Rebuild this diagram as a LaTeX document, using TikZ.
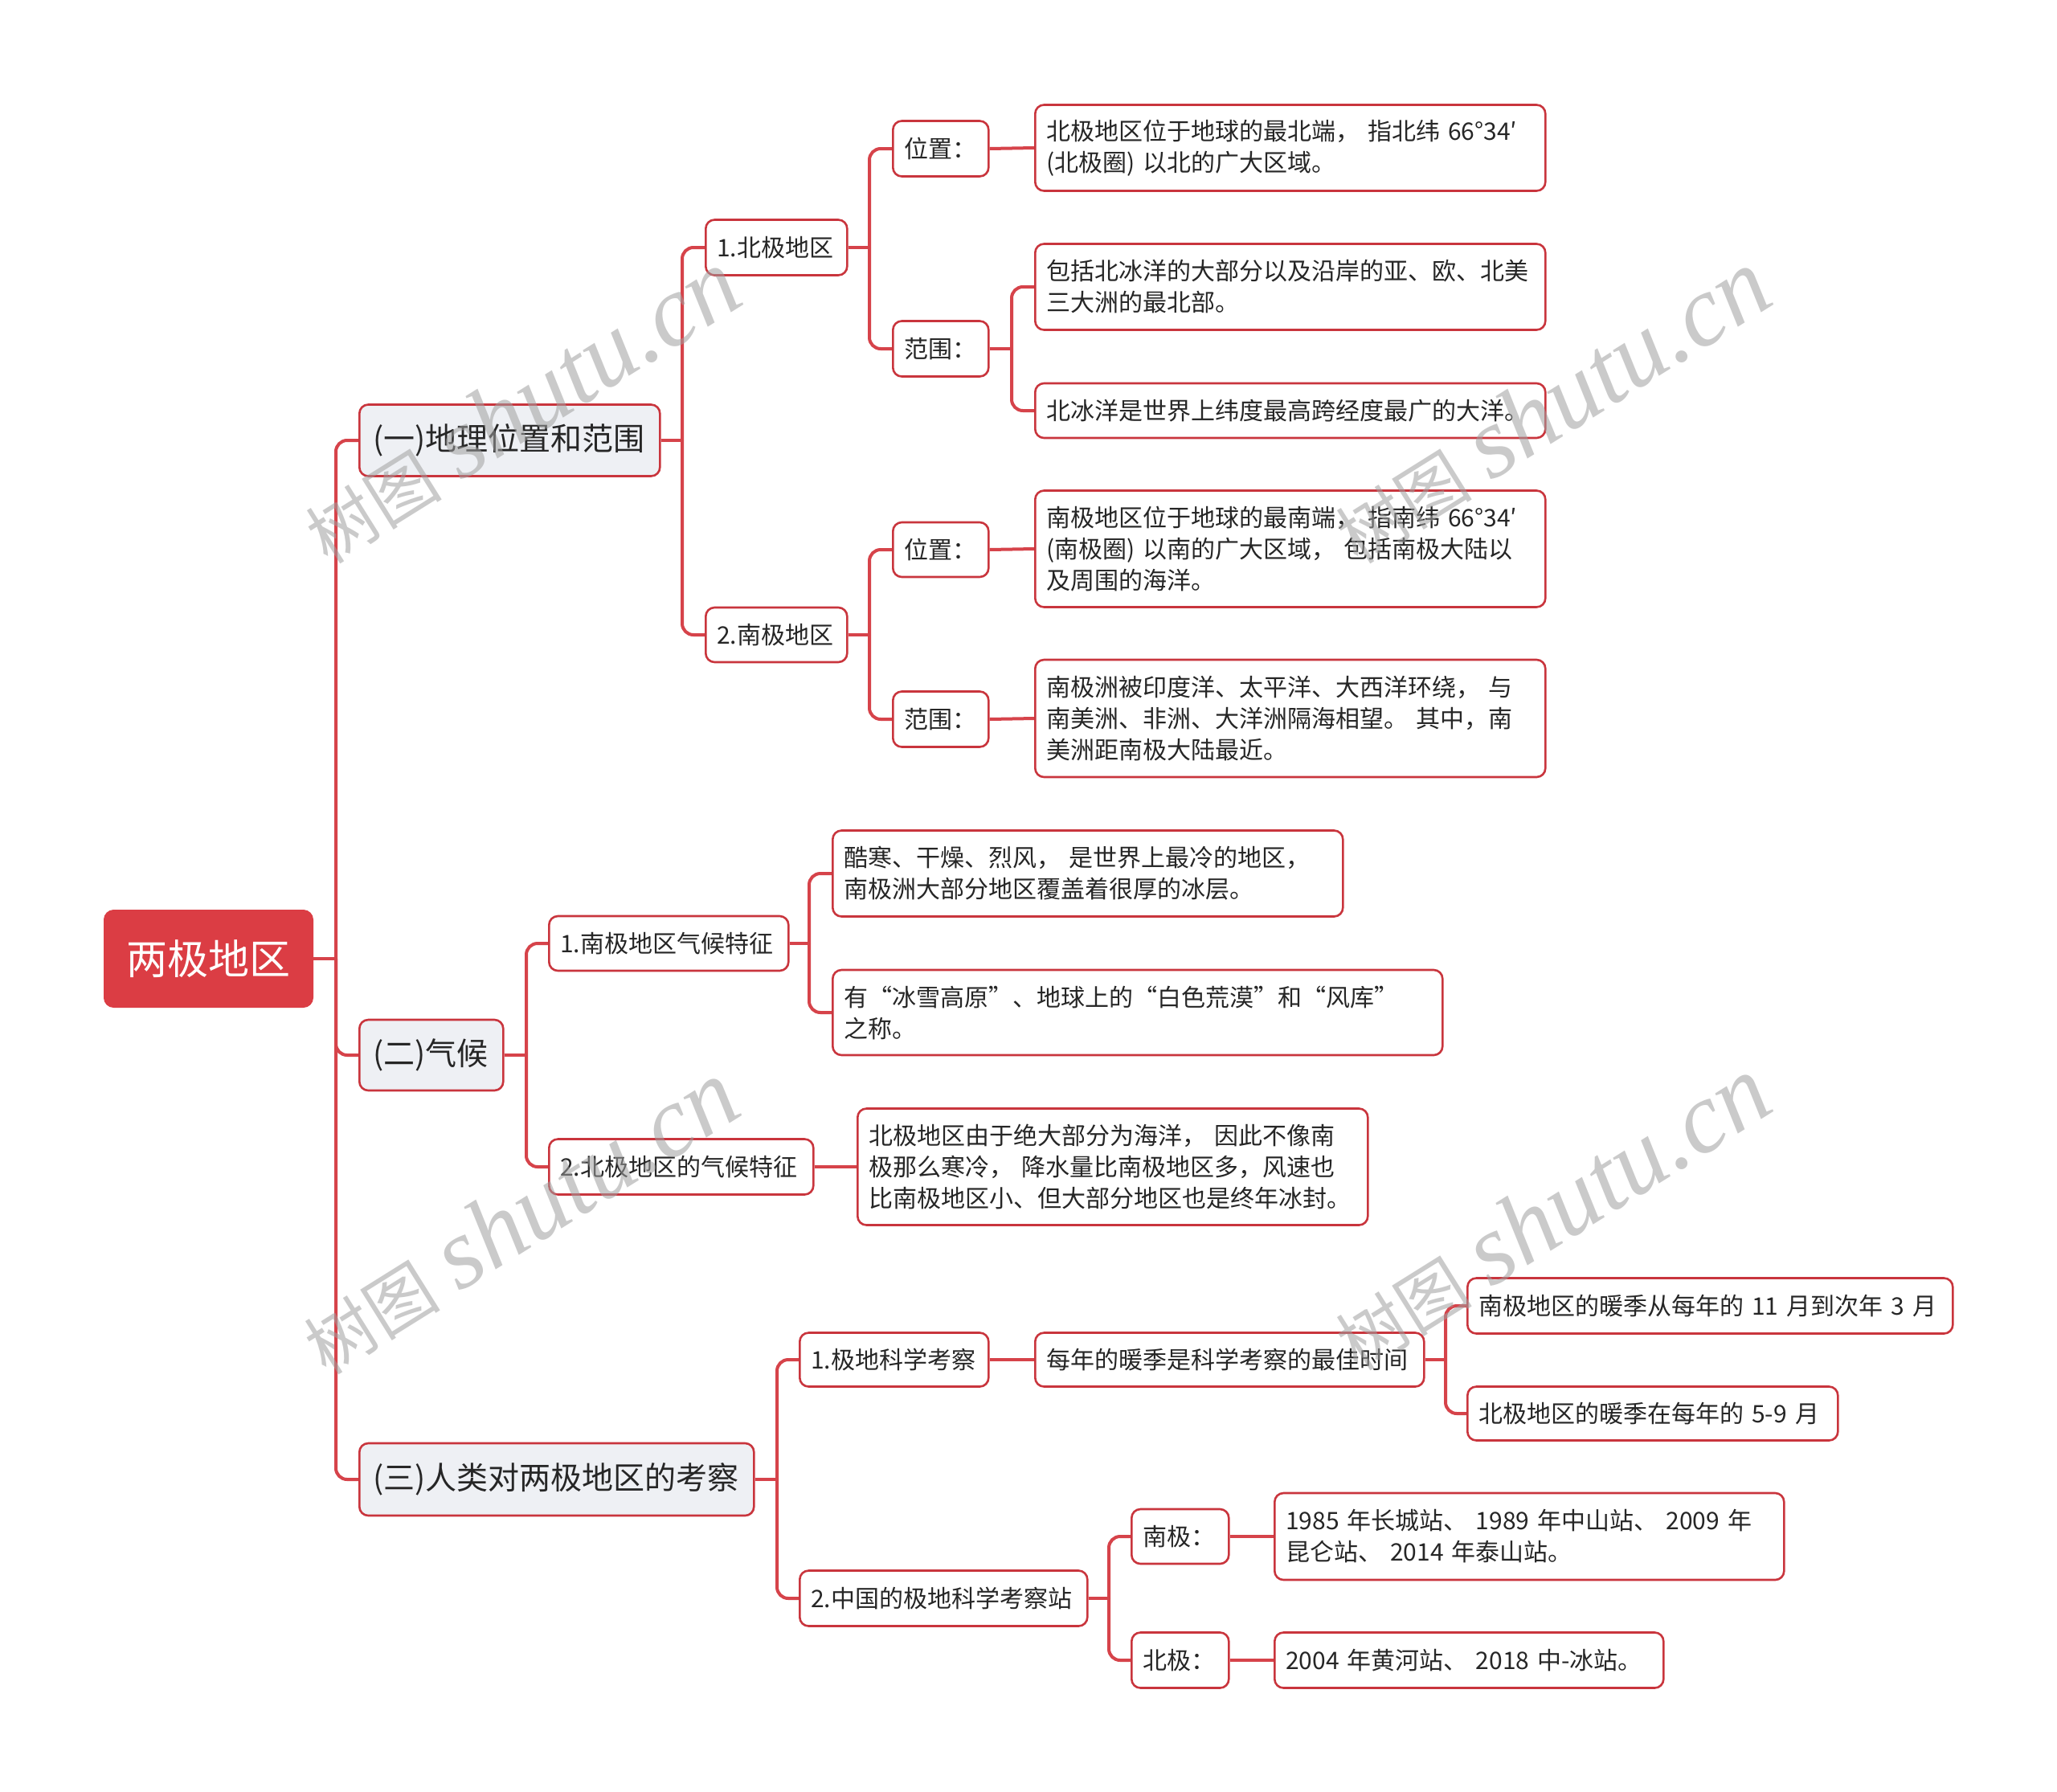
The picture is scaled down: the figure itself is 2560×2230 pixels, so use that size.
\documentclass[tikz,border=0pt]{standalone}
\usepackage{fontspec}
\setmainfont{Noto Sans CJK SC}
\newfontfamily\fwfont[RawFeature=+fwid]{Noto Sans CJK SC}
\newfontfamily\wmserif{Liberation Serif}
\newcommand{\qfw}[1]{{\fwfont #1}}
\definecolor{lc}{HTML}{D6434A}
\definecolor{bd}{HTML}{C9353D}
\definecolor{lonefill}{HTML}{EEF0F4}
\definecolor{rootfill}{HTML}{DB3D44}
\definecolor{tx}{HTML}{262626}
\definecolor{wmc}{HTML}{A0A0A0}
\pgfdeclarelayer{bg}
\pgfsetlayers{bg,main}
\newcommand{\brconn}[3]{\draw[conn] (#1.east) -- (#1.east -| #3); \draw[conn] (#1.east -| #3) |- (#2.west);}
\newcommand{\stconn}[2]{\draw[conn] (#1.east) -- (#2.west);}
\tikzset{
  box/.style={draw=bd, fill=white, line width=2.6pt, rounded corners=11pt, anchor=west, align=left,
    inner xsep=14pt, inner ysep=0pt, text=tx, font=\fontsize{30}{39}\selectfont},
  lone/.style={box, fill=lonefill, inner xsep=17pt, font=\fontsize{39}{46}\selectfont},
  rootn/.style={fill=rootfill, draw=rootfill, line width=1pt, rounded corners=12pt, anchor=west, align=center,
    text=white, minimum width=260pt, minimum height=121pt, inner sep=0pt, font=\fontsize{51}{56}\selectfont},
  conn/.style={draw=lc, line width=4pt, rounded corners=14pt},
  wm/.style={text=wmc, opacity=0.55, rotate=32, inner sep=0pt}
}
\begin{document}
\begin{tikzpicture}[x=1pt,y=-1pt]
\useasboundingbox (0,0) rectangle (2560,2230);
% root and level 1
\node[rootn] (root) at (129,1193) {两极地区};
\node[lone, text width=340pt, minimum height=89pt] (g1) at (446,548) {(一)地理位置和范围};
\node[lone, text width=145pt, minimum height=88pt] (g2) at (446,1313) {(二)气候};
\node[lone, text width=457pt, minimum height=90pt] (g3) at (446,1841) {(三)人类对两极地区的考察};
% branch one
\node[box, text width=148pt, minimum height=69pt] (a1) at (877,308) {1.北极地区};
\node[box, text width=148pt, minimum height=68pt] (a2) at (877,790) {2.南极地区};
\node[box, text width=91pt, minimum height=69pt] (a1p) at (1110,185) {位置：};
\node[box, text width=91pt, minimum height=69pt] (a1r) at (1110,434) {范围：};
\node[box, text width=607pt, minimum height=107pt] (a1pl) at (1287,184) {北极地区位于地球的最北端， 指北纬 66°34′\\(北极圈) 以北的广大区域。};
\node[box, text width=607pt, minimum height=107pt] (a1rl1) at (1287,357) {包括北冰洋的大部分以及沿岸的亚、欧、北美\\三大洲的最北部。};
\node[box, text width=607pt, minimum height=68pt] (a1rl2) at (1287,511) {北冰洋是世界上纬度最高跨经度最广的大洋。};
\node[box, text width=91pt, minimum height=68pt] (a2p) at (1110,684) {位置：};
\node[box, text width=91pt, minimum height=69pt] (a2r) at (1110,895) {范围：};
\node[box, text width=607pt, minimum height=145pt] (a2pl) at (1287,683) {南极地区位于地球的最南端， 指南纬 66°34′\\(南极圈) 以南的广大区域， 包括南极大陆以\\及周围的海洋。};
\node[box, text width=607pt, minimum height=146pt] (a2rl) at (1287,894) {南极洲被印度洋、太平洋、大西洋环绕， 与\\南美洲、非洲、大洋洲隔海相望。 其中，南\\美洲距南极大陆最近。};
% branch two
\node[box, text width=270pt, minimum height=68pt] (b1) at (682,1174) {1.南极地区气候特征};
\node[box, text width=301pt, minimum height=69pt] (b2) at (682,1452) {2.北极地区的气候特征};
\node[box, text width=607pt, minimum height=107pt] (b1l1) at (1035,1087) {酷寒、干燥、烈风， 是世界上最冷的地区，\\南极洲大部分地区覆盖着很厚的冰层。};
\node[box, text width=731pt, minimum height=106pt] (b1l2) at (1035,1260) {有\qfw{“}冰雪高原\qfw{”}、地球上的\qfw{“}白色荒漠\qfw{”}和\qfw{“}风库\qfw{”}\\之称。};
\node[box, text width=607pt, minimum height=145pt] (b2l) at (1066,1452) {北极地区由于绝大部分为海洋， 因此不像南\\极那么寒冷， 降水量比南极地区多，风速也\\比南极地区小、但大部分地区也是终年冰封。};
% branch three
\node[box, text width=207pt, minimum height=67pt] (c1) at (994,1692) {1.极地科学考察};
\node[box, text width=330pt, minimum height=69pt] (c2) at (994,1989) {2.中国的极地科学考察站};
\node[box, text width=456pt, minimum height=67pt] (c1m) at (1287,1692) {每年的暖季是科学考察的最佳时间};
\node[box, text width=576pt, minimum height=69pt] (c1l1) at (1825,1625) {南极地区的暖季从每年的 11 月到次年 3 月};
\node[box, text width=433pt, minimum height=67pt] (c1l2) at (1825,1759) {北极地区的暖季在每年的 5-9 月};
\node[box, text width=93pt, minimum height=68pt] (c2s) at (1407,1912) {南极：};
\node[box, text width=93pt, minimum height=69pt] (c2n) at (1407,2066) {北极：};
\node[box, text width=606pt, minimum height=108pt] (c2sl) at (1585,1912) {1985 年长城站、 1989 年中山站、 2009 年\\昆仑站、 2014 年泰山站。};
\node[box, text width=456pt, minimum height=69pt] (c2nl) at (1585,2066) {2004 年黄河站、 2018 中-冰站。};
% connectors
\coordinate (v0) at (418,0);
\coordinate (v1) at (849,0);
\coordinate (v2) at (1082,0);
\coordinate (v3) at (1259,0);
\coordinate (v4) at (655,0);
\coordinate (v5) at (1007,0);
\coordinate (v6) at (967,0);
\coordinate (v7) at (1799,0);
\coordinate (v8) at (1380,0);
\begin{pgfonlayer}{bg}
\fill[white] (0,0) rectangle (2560,2230);
\brconn{root}{g1}{v0}
\brconn{root}{g2}{v0}
\brconn{root}{g3}{v0}
\brconn{g1}{a1}{v1}
\brconn{g1}{a2}{v1}
\brconn{a1}{a1p}{v2}
\brconn{a1}{a1r}{v2}
\stconn{a1p}{a1pl}
\brconn{a1r}{a1rl1}{v3}
\brconn{a1r}{a1rl2}{v3}
\brconn{a2}{a2p}{v2}
\brconn{a2}{a2r}{v2}
\stconn{a2p}{a2pl}
\stconn{a2r}{a2rl}
\brconn{g2}{b1}{v4}
\brconn{g2}{b2}{v4}
\brconn{b1}{b1l1}{v5}
\brconn{b1}{b1l2}{v5}
\stconn{b2}{b2l}
\brconn{g3}{c1}{v6}
\brconn{g3}{c2}{v6}
\stconn{c1}{c1m}
\brconn{c1m}{c1l1}{v7}
\brconn{c1m}{c1l2}{v7}
\brconn{c2}{c2s}{v8}
\brconn{c2}{c2n}{v8}
\stconn{c2s}{c2sl}
\stconn{c2n}{c2nl}
\end{pgfonlayer}
% watermarks
\node[wm] (w1) at (648,506) {\fontsize{85}{85}\selectfont 树图\hspace{0.3em}{\wmserif\itshape\fontsize{125}{125}\selectfont shutu.cn}};
\node[wm] (w2) at (1930,506) {\fontsize{85}{85}\selectfont 树图\hspace{0.3em}{\wmserif\itshape\fontsize{125}{125}\selectfont shutu.cn}};
\node[wm] (w3) at (646,1515) {\fontsize{85}{85}\selectfont 树图\hspace{0.3em}{\wmserif\itshape\fontsize{125}{125}\selectfont shutu.cn}};
\node[wm] (w4) at (1930,1510) {\fontsize{85}{85}\selectfont 树图\hspace{0.3em}{\wmserif\itshape\fontsize{125}{125}\selectfont shutu.cn}};
\end{tikzpicture}
\end{document}
